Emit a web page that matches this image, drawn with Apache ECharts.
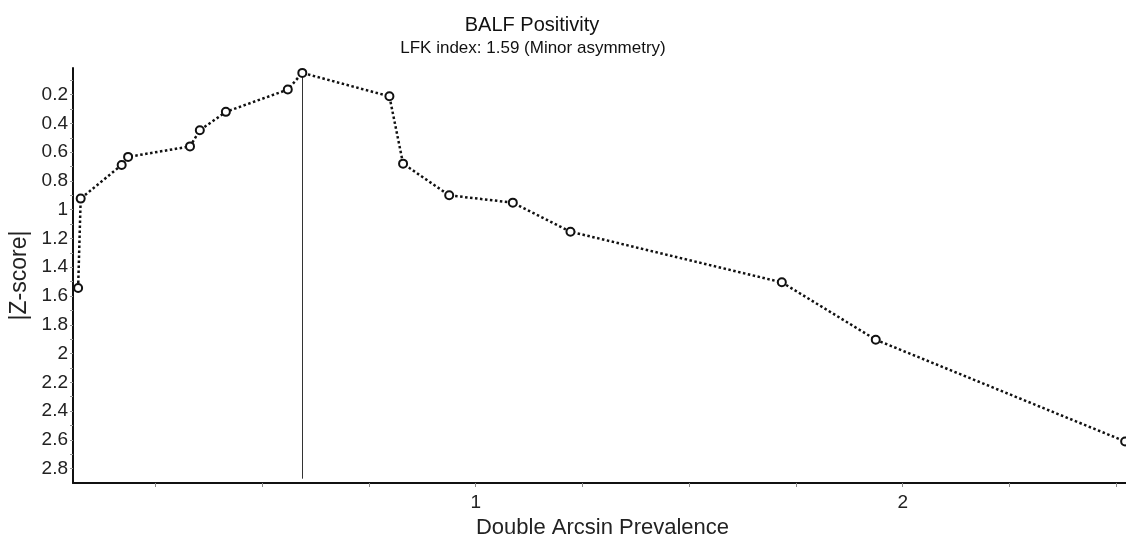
<!DOCTYPE html>
<html>
<head>
<meta charset="utf-8">
<script src="https://cdn.jsdelivr.net/npm/echarts@6/dist/echarts.min.js"></script>
<style>html,body{margin:0;padding:0;background:#fff;}#c{width:1126px;height:537px;}</style>
</head>
<body>
<div id="c"></div>
<script>
var titleText = 'BALF Positivity';
var subtitleText = 'LFK index: 1.59 (Minor asymmetry)';
var xName = 'Double Arcsin Prevalence';
var yName = '|Z-score|';
var xValues = [0.069, 0.075, 0.171, 0.186, 0.331, 0.354, 0.415, 0.560, 0.594, 0.798, 0.830, 0.938, 1.087, 1.222, 1.717, 1.937, 2.521];
var zValues = [1.544, 0.923, 0.689, 0.633, 0.560, 0.448, 0.320, 0.165, 0.049, 0.212, 0.680, 0.900, 0.951, 1.153, 1.505, 1.904, 2.611];
var peakX = 0.594;
var peakLineY = [0.049, 2.87];
var xTickValues = [0.25, 0.5, 0.75, 1, 1.25, 1.5, 1.75, 2, 2.25, 2.5];
var xLabelValues = [1, 2];
var yTickValues = [0.1,0.2,0.3,0.4,0.5,0.6,0.7,0.8,0.9,1,1.1,1.2,1.3,1.4,1.5,1.6,1.7,1.8,1.9,2,2.1,2.2,2.3,2.4,2.5,2.6,2.7,2.8];
var yLabelValues = [0.2,0.4,0.6,0.8,1,1.2,1.4,1.6,1.8,2,2.2,2.4,2.6,2.8];

var font = '"Liberation Sans", Arial, sans-serif';
var points = xValues.map(function(x, i){ return [x, zValues[i]]; });

var chart = echarts.init(document.getElementById('c'), null, {renderer: 'canvas'});
chart.setOption({
  animation: false,
  backgroundColor: '#fff',
  title: [
    {text: titleText, left: 527, top: 10, textAlign: 'center',
     textStyle: {fontFamily: font, fontSize: 20, fontWeight: 'normal', color: '#111'}},
    {text: subtitleText, left: 528, top: 35, textAlign: 'center',
     textStyle: {fontFamily: font, fontSize: 17, fontWeight: 'normal', color: '#111'}}
  ],
  grid: {left: 73, right: 0, top: 68, bottom: 54, containLabel: false, outerBoundsMode: 'none'},
  xAxis: {
    type: 'value', min: 0.057, max: 2.523,
    name: xName, nameLocation: 'middle', nameGap: 32,
    nameTextStyle: {fontFamily: font, fontSize: 22, color: '#222', padding: [0,0,0,6]},
    axisLine: {lineStyle: {color: '#111', width: 2}},
    axisTick: {show: true, customValues: xTickValues, length: 4, inside: false, lineStyle: {color: '#888', width: 1}},
    axisLabel: {customValues: xLabelValues, fontFamily: font, fontSize: 19, color: '#222', margin: 10},
    splitLine: {show: false}
  },
  yAxis: {
    type: 'value', inverse: true, min: 0.015, max: 2.9,
    name: yName, nameLocation: 'middle', nameGap: 36,
    nameTextStyle: {fontFamily: font, fontSize: 23, color: '#222'},
    axisLine: {show: true, lineStyle: {color: '#111', width: 2}},
    axisTick: {show: true, customValues: yTickValues, length: 3, lineStyle: {color: '#999', width: 1}},
    axisLabel: {customValues: yLabelValues, fontFamily: font, fontSize: 19, color: '#222', margin: 5,
      formatter: function(v){ return String(Math.round(v*10)/10); }},
    splitLine: {show: false}
  },
  series: [{
    type: 'line',
    data: points,
    clip: false,
    symbol: 'circle', symbolSize: 8,
    itemStyle: {color: '#fff', borderColor: '#111', borderWidth: 2},
    lineStyle: {color: '#111', width: 2.5, type: [2.5, 2.5]},
    z: 3,
    markLine: {
      silent: true, symbol: ['none','none'], label: {show: false},
      lineStyle: {color: '#333', width: 1, type: 'solid'},
      z: 2,
      data: [[{coord: [peakX, peakLineY[0]]}, {coord: [peakX, peakLineY[1]]}]]
    }
  }]
});
</script>
</body>
</html>
